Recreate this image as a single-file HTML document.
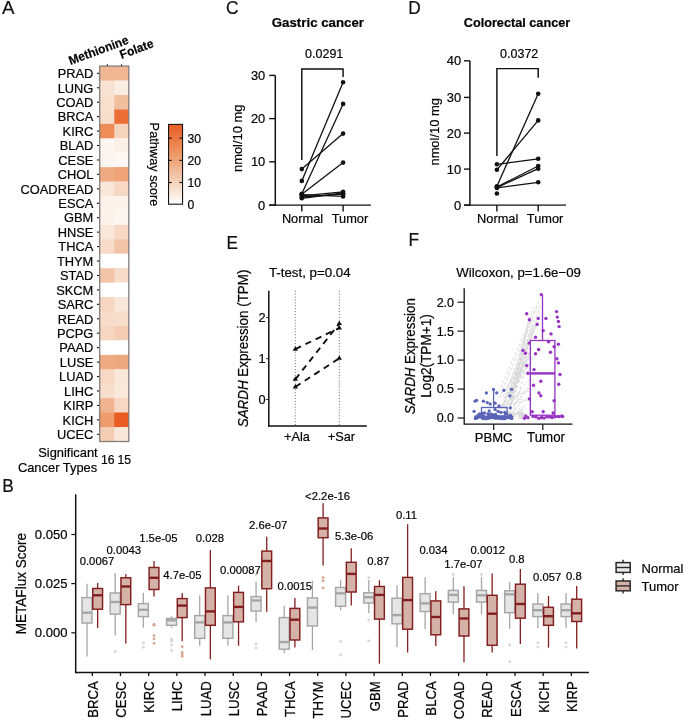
<!DOCTYPE html>
<html><head><meta charset="utf-8"><title>Figure</title>
<style>html,body{margin:0;padding:0;background:#fff;} svg{display:block;will-change:transform;} text{font-family:"Liberation Sans", sans-serif;stroke:#111;stroke-width:0.22px;}</style>
</head><body>
<svg width="685" height="721" viewBox="0 0 685 721" font-family='"Liberation Sans", sans-serif'>
<rect width="685" height="721" fill="#fff"/>
<text x="0" y="0" font-size="18.8" fill="#111" transform="translate(1.9 14.25) scale(1.0 1)">A</text>
<rect x="99.7" y="66.10" width="29.10" height="15.44" fill="rgb(240,183,149)"/>
<rect x="114.3" y="66.10" width="14.50" height="15.44" fill="rgb(240,183,149)"/>
<text x="93.30" y="78.12" font-size="13.43" text-anchor="end" transform="translate(93.30 78.12) scale(0.9569 1) translate(-93.30 -78.12)" >PRAD</text>
<line x1="96.90" y1="73.32" x2="99.40" y2="73.32" stroke="#1a1a1a" stroke-width="1.1" />
<rect x="99.7" y="80.54" width="29.10" height="15.44" fill="rgb(248,226,210)"/>
<rect x="114.3" y="80.54" width="14.50" height="15.44" fill="rgb(250,237,226)"/>
<text x="93.30" y="92.56" font-size="13.43" text-anchor="end" transform="translate(93.30 92.56) scale(0.9569 1) translate(-93.30 -92.56)" >LUNG</text>
<line x1="96.90" y1="87.76" x2="99.40" y2="87.76" stroke="#1a1a1a" stroke-width="1.1" />
<rect x="99.7" y="94.98" width="29.10" height="15.44" fill="rgb(248,224,207)"/>
<rect x="114.3" y="94.98" width="14.50" height="15.44" fill="rgb(241,190,158)"/>
<text x="93.30" y="107.00" font-size="13.43" text-anchor="end" transform="translate(93.30 107.00) scale(0.9569 1) translate(-93.30 -107.00)" >COAD</text>
<line x1="96.90" y1="102.20" x2="99.40" y2="102.20" stroke="#1a1a1a" stroke-width="1.1" />
<rect x="99.7" y="109.42" width="29.10" height="15.44" fill="rgb(247,222,204)"/>
<rect x="114.3" y="109.42" width="14.50" height="15.44" fill="rgb(235,110,55)"/>
<text x="93.30" y="121.43" font-size="13.43" text-anchor="end" transform="translate(93.30 121.43) scale(0.9569 1) translate(-93.30 -121.43)" >BRCA</text>
<line x1="96.90" y1="116.63" x2="99.40" y2="116.63" stroke="#1a1a1a" stroke-width="1.1" />
<rect x="99.7" y="123.85" width="29.10" height="15.44" fill="rgb(237,140,86)"/>
<rect x="114.3" y="123.85" width="14.50" height="15.44" fill="rgb(245,212,190)"/>
<text x="93.30" y="135.87" font-size="13.43" text-anchor="end" transform="translate(93.30 135.87) scale(0.9569 1) translate(-93.30 -135.87)" >KIRC</text>
<line x1="96.90" y1="131.07" x2="99.40" y2="131.07" stroke="#1a1a1a" stroke-width="1.1" />
<rect x="99.7" y="138.29" width="29.10" height="15.44" fill="rgb(253,246,240)"/>
<rect x="114.3" y="138.29" width="14.50" height="15.44" fill="rgb(251,240,231)"/>
<text x="93.30" y="150.31" font-size="13.43" text-anchor="end" transform="translate(93.30 150.31) scale(0.9569 1) translate(-93.30 -150.31)" >BLAD</text>
<line x1="96.90" y1="145.51" x2="99.40" y2="145.51" stroke="#1a1a1a" stroke-width="1.1" />
<rect x="99.7" y="152.73" width="29.10" height="15.44" fill="rgb(252,244,238)"/>
<rect x="114.3" y="152.73" width="14.50" height="15.44" fill="rgb(253,248,244)"/>
<text x="93.30" y="164.75" font-size="13.43" text-anchor="end" transform="translate(93.30 164.75) scale(0.9569 1) translate(-93.30 -164.75)" >CESE</text>
<line x1="96.90" y1="159.95" x2="99.40" y2="159.95" stroke="#1a1a1a" stroke-width="1.1" />
<rect x="99.7" y="167.17" width="29.10" height="15.44" fill="rgb(238,170,130)"/>
<rect x="114.3" y="167.17" width="14.50" height="15.44" fill="rgb(238,163,120)"/>
<text x="93.30" y="179.19" font-size="13.43" text-anchor="end" transform="translate(93.30 179.19) scale(0.9569 1) translate(-93.30 -179.19)" >CHOL</text>
<line x1="96.90" y1="174.39" x2="99.40" y2="174.39" stroke="#1a1a1a" stroke-width="1.1" />
<rect x="99.7" y="181.61" width="29.10" height="15.44" fill="rgb(249,232,218)"/>
<rect x="114.3" y="181.61" width="14.50" height="15.44" fill="rgb(246,216,196)"/>
<text x="93.30" y="193.63" font-size="13.43" text-anchor="end" transform="translate(93.30 193.63) scale(0.9569 1) translate(-93.30 -193.63)" >COADREAD</text>
<line x1="96.90" y1="188.83" x2="99.40" y2="188.83" stroke="#1a1a1a" stroke-width="1.1" />
<rect x="99.7" y="196.05" width="29.10" height="15.44" fill="rgb(252,242,234)"/>
<rect x="114.3" y="196.05" width="14.50" height="15.44" fill="rgb(252,243,235)"/>
<text x="93.30" y="208.07" font-size="13.43" text-anchor="end" transform="translate(93.30 208.07) scale(0.9569 1) translate(-93.30 -208.07)" >ESCA</text>
<line x1="96.90" y1="203.27" x2="99.40" y2="203.27" stroke="#1a1a1a" stroke-width="1.1" />
<rect x="99.7" y="210.48" width="29.10" height="15.44" fill="rgb(252,242,234)"/>
<rect x="114.3" y="210.48" width="14.50" height="15.44" fill="rgb(253,246,240)"/>
<text x="93.30" y="222.50" font-size="13.43" text-anchor="end" transform="translate(93.30 222.50) scale(0.9569 1) translate(-93.30 -222.50)" >GBM</text>
<line x1="96.90" y1="217.70" x2="99.40" y2="217.70" stroke="#1a1a1a" stroke-width="1.1" />
<rect x="99.7" y="224.92" width="29.10" height="15.44" fill="rgb(249,232,218)"/>
<rect x="114.3" y="224.92" width="14.50" height="15.44" fill="rgb(246,216,196)"/>
<text x="93.30" y="236.94" font-size="13.43" text-anchor="end" transform="translate(93.30 236.94) scale(0.9569 1) translate(-93.30 -236.94)" >HNSE</text>
<line x1="96.90" y1="232.14" x2="99.40" y2="232.14" stroke="#1a1a1a" stroke-width="1.1" />
<rect x="99.7" y="239.36" width="29.10" height="15.44" fill="rgb(247,220,201)"/>
<rect x="114.3" y="239.36" width="14.50" height="15.44" fill="rgb(242,196,167)"/>
<text x="93.30" y="251.38" font-size="13.43" text-anchor="end" transform="translate(93.30 251.38) scale(0.9569 1) translate(-93.30 -251.38)" >THCA</text>
<line x1="96.90" y1="246.58" x2="99.40" y2="246.58" stroke="#1a1a1a" stroke-width="1.1" />
<rect x="99.7" y="253.80" width="29.10" height="15.44" fill="rgb(255,255,255)"/>
<rect x="114.3" y="253.80" width="14.50" height="15.44" fill="rgb(255,255,255)"/>
<text x="93.30" y="265.82" font-size="13.43" text-anchor="end" transform="translate(93.30 265.82) scale(0.9569 1) translate(-93.30 -265.82)" >THYM</text>
<line x1="96.90" y1="261.02" x2="99.40" y2="261.02" stroke="#1a1a1a" stroke-width="1.1" />
<rect x="99.7" y="268.24" width="29.10" height="15.44" fill="rgb(242,196,167)"/>
<rect x="114.3" y="268.24" width="14.50" height="15.44" fill="rgb(247,220,201)"/>
<text x="93.30" y="280.26" font-size="13.43" text-anchor="end" transform="translate(93.30 280.26) scale(0.9569 1) translate(-93.30 -280.26)" >STAD</text>
<line x1="96.90" y1="275.46" x2="99.40" y2="275.46" stroke="#1a1a1a" stroke-width="1.1" />
<rect x="99.7" y="282.68" width="29.10" height="15.44" fill="rgb(255,255,255)"/>
<rect x="114.3" y="282.68" width="14.50" height="15.44" fill="rgb(255,255,255)"/>
<text x="93.30" y="294.70" font-size="13.43" text-anchor="end" transform="translate(93.30 294.70) scale(0.9569 1) translate(-93.30 -294.70)" >SKCM</text>
<line x1="96.90" y1="289.90" x2="99.40" y2="289.90" stroke="#1a1a1a" stroke-width="1.1" />
<rect x="99.7" y="297.12" width="29.10" height="15.44" fill="rgb(246,214,193)"/>
<rect x="114.3" y="297.12" width="14.50" height="15.44" fill="rgb(249,232,218)"/>
<text x="93.30" y="309.13" font-size="13.43" text-anchor="end" transform="translate(93.30 309.13) scale(0.9569 1) translate(-93.30 -309.13)" >SARC</text>
<line x1="96.90" y1="304.33" x2="99.40" y2="304.33" stroke="#1a1a1a" stroke-width="1.1" />
<rect x="99.7" y="311.55" width="29.10" height="15.44" fill="rgb(247,220,201)"/>
<rect x="114.3" y="311.55" width="14.50" height="15.44" fill="rgb(247,222,204)"/>
<text x="93.30" y="323.57" font-size="13.43" text-anchor="end" transform="translate(93.30 323.57) scale(0.9569 1) translate(-93.30 -323.57)" >READ</text>
<line x1="96.90" y1="318.77" x2="99.40" y2="318.77" stroke="#1a1a1a" stroke-width="1.1" />
<rect x="99.7" y="325.99" width="29.10" height="15.44" fill="rgb(246,214,193)"/>
<rect x="114.3" y="325.99" width="14.50" height="15.44" fill="rgb(244,205,180)"/>
<text x="93.30" y="338.01" font-size="13.43" text-anchor="end" transform="translate(93.30 338.01) scale(0.9569 1) translate(-93.30 -338.01)" >PCPG</text>
<line x1="96.90" y1="333.21" x2="99.40" y2="333.21" stroke="#1a1a1a" stroke-width="1.1" />
<rect x="99.7" y="340.43" width="29.10" height="15.44" fill="rgb(255,255,255)"/>
<rect x="114.3" y="340.43" width="14.50" height="15.44" fill="rgb(255,255,255)"/>
<text x="93.30" y="352.45" font-size="13.43" text-anchor="end" transform="translate(93.30 352.45) scale(0.9569 1) translate(-93.30 -352.45)" >PAAD</text>
<line x1="96.90" y1="347.65" x2="99.40" y2="347.65" stroke="#1a1a1a" stroke-width="1.1" />
<rect x="99.7" y="354.87" width="29.10" height="15.44" fill="rgb(238,170,130)"/>
<rect x="114.3" y="354.87" width="14.50" height="15.44" fill="rgb(238,168,127)"/>
<text x="93.30" y="366.89" font-size="13.43" text-anchor="end" transform="translate(93.30 366.89) scale(0.9569 1) translate(-93.30 -366.89)" >LUSE</text>
<line x1="96.90" y1="362.09" x2="99.40" y2="362.09" stroke="#1a1a1a" stroke-width="1.1" />
<rect x="99.7" y="369.31" width="29.10" height="15.44" fill="rgb(246,216,196)"/>
<rect x="114.3" y="369.31" width="14.50" height="15.44" fill="rgb(249,232,218)"/>
<text x="93.30" y="381.33" font-size="13.43" text-anchor="end" transform="translate(93.30 381.33) scale(0.9569 1) translate(-93.30 -381.33)" >LUAD</text>
<line x1="96.90" y1="376.53" x2="99.40" y2="376.53" stroke="#1a1a1a" stroke-width="1.1" />
<rect x="99.7" y="383.75" width="29.10" height="15.44" fill="rgb(247,222,204)"/>
<rect x="114.3" y="383.75" width="14.50" height="15.44" fill="rgb(249,233,219)"/>
<text x="93.30" y="395.77" font-size="13.43" text-anchor="end" transform="translate(93.30 395.77) scale(0.9569 1) translate(-93.30 -395.77)" >LIHC</text>
<line x1="96.90" y1="390.97" x2="99.40" y2="390.97" stroke="#1a1a1a" stroke-width="1.1" />
<rect x="99.7" y="398.18" width="29.10" height="15.44" fill="rgb(240,180,144)"/>
<rect x="114.3" y="398.18" width="14.50" height="15.44" fill="rgb(246,216,196)"/>
<text x="93.30" y="410.20" font-size="13.43" text-anchor="end" transform="translate(93.30 410.20) scale(0.9569 1) translate(-93.30 -410.20)" >KIRP</text>
<line x1="96.90" y1="405.40" x2="99.40" y2="405.40" stroke="#1a1a1a" stroke-width="1.1" />
<rect x="99.7" y="412.62" width="29.10" height="15.44" fill="rgb(238,155,109)"/>
<rect x="114.3" y="412.62" width="14.50" height="15.44" fill="rgb(233,92,36)"/>
<text x="93.30" y="424.64" font-size="13.43" text-anchor="end" transform="translate(93.30 424.64) scale(0.9569 1) translate(-93.30 -424.64)" >KICH</text>
<line x1="96.90" y1="419.84" x2="99.40" y2="419.84" stroke="#1a1a1a" stroke-width="1.1" />
<rect x="99.7" y="427.06" width="29.10" height="14.44" fill="rgb(244,205,180)"/>
<rect x="114.3" y="427.06" width="14.50" height="14.44" fill="rgb(249,232,218)"/>
<text x="93.30" y="439.08" font-size="13.43" text-anchor="end" transform="translate(93.30 439.08) scale(0.9569 1) translate(-93.30 -439.08)" >UCEC</text>
<line x1="96.90" y1="434.28" x2="99.40" y2="434.28" stroke="#1a1a1a" stroke-width="1.1" />
<rect x="99.7" y="66.1" width="29.10" height="375.40" fill="none" stroke="#857d7a" stroke-width="1.3"/>
<line x1="107.30" y1="64.00" x2="107.30" y2="66.10" stroke="#333" stroke-width="0.9" />
<line x1="121.50" y1="64.00" x2="121.50" y2="66.10" stroke="#333" stroke-width="0.9" />
<text x="70.50" y="65.00" font-size="12.44" text-anchor="start" font-weight="bold" transform="rotate(-20.2 70.50 65.00) translate(70.50 65.00) scale(0.9569 1) translate(-70.50 -65.00)" >Methionine</text>
<text x="121.60" y="58.90" font-size="12.44" text-anchor="start" font-weight="bold" transform="rotate(-20.2 121.60 58.90) translate(121.60 58.90) scale(0.9569 1) translate(-121.60 -58.90)" >Folate</text>
<text x="97.70" y="456.90" font-size="13.48" text-anchor="end" transform="translate(97.70 456.90) scale(0.9569 1) translate(-97.70 -456.90)" >Significant</text>
<text x="97.20" y="471.70" font-size="13.48" text-anchor="end" transform="translate(97.20 471.70) scale(0.9569 1) translate(-97.20 -471.70)" >Cancer Types</text>
<text x="101.10" y="463.90" font-size="12.75" text-anchor="start" transform="translate(101.10 463.90) scale(0.9569 1) translate(-101.10 -463.90)" >16</text>
<text x="117.60" y="463.90" font-size="12.75" text-anchor="start" transform="translate(117.60 463.90) scale(0.9569 1) translate(-117.60 -463.90)" >15</text>
<defs><linearGradient id="cb" x1="0" y1="1" x2="0" y2="0"><stop offset="0.0" stop-color="rgb(255,255,255)"/><stop offset="0.1" stop-color="rgb(251,239,229)"/><stop offset="0.2" stop-color="rgb(247,222,204)"/><stop offset="0.3" stop-color="rgb(244,206,181)"/><stop offset="0.4" stop-color="rgb(241,189,158)"/><stop offset="0.5" stop-color="rgb(239,173,134)"/><stop offset="0.6" stop-color="rgb(238,157,111)"/><stop offset="0.7" stop-color="rgb(237,140,87)"/><stop offset="0.8" stop-color="rgb(236,124,69)"/><stop offset="0.9" stop-color="rgb(234,108,52)"/><stop offset="1.0" stop-color="rgb(233,92,36)"/></linearGradient></defs>
<rect x="168.55" y="124.4" width="14.0" height="79.8" fill="url(#cb)" stroke="#151515" stroke-width="1.1"/>
<line x1="168.60" y1="138.20" x2="171.60" y2="138.20" stroke="#111" stroke-width="1.2" />
<line x1="179.50" y1="138.20" x2="182.50" y2="138.20" stroke="#111" stroke-width="1.2" />
<text x="187.60" y="142.60" font-size="12.75" text-anchor="start" transform="translate(187.60 142.60) scale(0.9569 1) translate(-187.60 -142.60)" >30</text>
<line x1="168.60" y1="160.40" x2="171.60" y2="160.40" stroke="#111" stroke-width="1.2" />
<line x1="179.50" y1="160.40" x2="182.50" y2="160.40" stroke="#111" stroke-width="1.2" />
<text x="187.60" y="164.80" font-size="12.75" text-anchor="start" transform="translate(187.60 164.80) scale(0.9569 1) translate(-187.60 -164.80)" >20</text>
<line x1="168.60" y1="182.50" x2="171.60" y2="182.50" stroke="#111" stroke-width="1.2" />
<line x1="179.50" y1="182.50" x2="182.50" y2="182.50" stroke="#111" stroke-width="1.2" />
<text x="187.60" y="186.90" font-size="12.75" text-anchor="start" transform="translate(187.60 186.90) scale(0.9569 1) translate(-187.60 -186.90)" >10</text>
<text x="187.60" y="208.80" font-size="12.75" text-anchor="start" transform="translate(187.60 208.80) scale(0.9569 1) translate(-187.60 -208.80)" >0</text>
<text x="149.90" y="164.55" font-size="13.38" text-anchor="middle" transform="rotate(90 149.90 164.55) translate(149.90 164.55) scale(0.9569 1) translate(-149.90 -164.55)" >Pathway score</text>
<text x="0" y="0" font-size="18.8" fill="#111" transform="translate(226.0 14.2) scale(0.92 1)">C</text>
<text x="317.90" y="26.70" font-size="12.96" text-anchor="middle" font-weight="bold" textLength="96.35" lengthAdjust="spacingAndGlyphs" transform="translate(317.90 26.70) scale(0.9569 1) translate(-317.90 -26.70)" >Gastric cancer</text>
<text x="324.20" y="58.40" font-size="13.06" text-anchor="middle" transform="translate(324.20 58.40) scale(0.9569 1) translate(-324.20 -58.40)" >0.0291</text>
<path d="M301.8,160.0 V68.89999999999999 H343.1 V76.9" fill="none" stroke="#111" stroke-width="1.45"/>
<line x1="275.30" y1="75.40" x2="275.30" y2="205.80" stroke="#111" stroke-width="1.5" />
<line x1="269.20" y1="205.10" x2="370.90" y2="205.10" stroke="#111" stroke-width="1.45" />
<line x1="269.20" y1="75.40" x2="275.30" y2="75.40" stroke="#111" stroke-width="1.4" />
<text x="265.30" y="80.00" font-size="13.48" text-anchor="end" transform="translate(265.30 80.00) scale(0.9569 1) translate(-265.30 -80.00)" >30</text>
<line x1="269.20" y1="118.60" x2="275.30" y2="118.60" stroke="#111" stroke-width="1.4" />
<text x="265.30" y="123.20" font-size="13.48" text-anchor="end" transform="translate(265.30 123.20) scale(0.9569 1) translate(-265.30 -123.20)" >20</text>
<line x1="269.20" y1="161.80" x2="275.30" y2="161.80" stroke="#111" stroke-width="1.4" />
<text x="265.30" y="166.40" font-size="13.48" text-anchor="end" transform="translate(265.30 166.40) scale(0.9569 1) translate(-265.30 -166.40)" >10</text>
<line x1="269.20" y1="205.10" x2="275.30" y2="205.10" stroke="#111" stroke-width="1.4" />
<text x="265.30" y="209.70" font-size="13.48" text-anchor="end" transform="translate(265.30 209.70) scale(0.9569 1) translate(-265.30 -209.70)" >0</text>
<line x1="301.80" y1="205.10" x2="301.80" y2="211.60" stroke="#111" stroke-width="1.4" />
<line x1="343.10" y1="205.10" x2="343.10" y2="211.60" stroke="#111" stroke-width="1.4" />
<text x="302.50" y="222.80" font-size="13.38" text-anchor="middle" transform="translate(302.50 222.80) scale(0.9569 1) translate(-302.50 -222.80)" >Normal</text>
<text x="350.00" y="222.80" font-size="13.38" text-anchor="middle" transform="translate(350.00 222.80) scale(0.9569 1) translate(-350.00 -222.80)" >Tumor</text>
<text x="242.50" y="138.30" font-size="13.48" text-anchor="middle" transform="rotate(-90 242.50 138.30) translate(242.50 138.30) scale(0.9569 1) translate(-242.50 -138.30)" >nmol/10 mg</text>
<line x1="301.80" y1="169.10" x2="343.10" y2="133.60" stroke="#111" stroke-width="1.3" />
<line x1="301.80" y1="180.90" x2="343.10" y2="82.20" stroke="#111" stroke-width="1.3" />
<line x1="301.80" y1="193.70" x2="343.10" y2="103.90" stroke="#111" stroke-width="1.3" />
<line x1="301.80" y1="194.20" x2="343.10" y2="162.60" stroke="#111" stroke-width="1.3" />
<line x1="301.80" y1="194.60" x2="343.10" y2="196.40" stroke="#111" stroke-width="1.3" />
<line x1="301.80" y1="195.90" x2="343.10" y2="191.80" stroke="#111" stroke-width="1.3" />
<line x1="301.80" y1="197.00" x2="343.10" y2="194.20" stroke="#111" stroke-width="1.3" />
<line x1="301.80" y1="198.30" x2="343.10" y2="193.00" stroke="#111" stroke-width="1.3" />
<circle cx="301.8" cy="169.1" r="2.3" fill="#111"/>
<circle cx="343.1" cy="133.6" r="2.3" fill="#111"/>
<circle cx="301.8" cy="180.9" r="2.3" fill="#111"/>
<circle cx="343.1" cy="82.2" r="2.3" fill="#111"/>
<circle cx="301.8" cy="193.7" r="2.3" fill="#111"/>
<circle cx="343.1" cy="103.9" r="2.3" fill="#111"/>
<circle cx="301.8" cy="194.2" r="2.3" fill="#111"/>
<circle cx="343.1" cy="162.6" r="2.3" fill="#111"/>
<circle cx="301.8" cy="194.6" r="2.3" fill="#111"/>
<circle cx="343.1" cy="196.4" r="2.3" fill="#111"/>
<circle cx="301.8" cy="195.9" r="2.3" fill="#111"/>
<circle cx="343.1" cy="191.8" r="2.3" fill="#111"/>
<circle cx="301.8" cy="197.0" r="2.3" fill="#111"/>
<circle cx="343.1" cy="194.2" r="2.3" fill="#111"/>
<circle cx="301.8" cy="198.3" r="2.3" fill="#111"/>
<circle cx="343.1" cy="193.0" r="2.3" fill="#111"/>
<text x="0" y="0" font-size="18.8" fill="#111" transform="translate(408.3 13.9) scale(0.92 1)">D</text>
<text x="517.00" y="26.70" font-size="12.96" text-anchor="middle" font-weight="bold" textLength="111.29" lengthAdjust="spacingAndGlyphs" transform="translate(517.00 26.70) scale(0.9569 1) translate(-517.00 -26.70)" >Colorectal cancer</text>
<text x="519.20" y="58.40" font-size="13.06" text-anchor="middle" transform="translate(519.20 58.40) scale(0.9569 1) translate(-519.20 -58.40)" >0.0372</text>
<path d="M496.9,156.0 V68.6 H538.2 V77.7" fill="none" stroke="#111" stroke-width="1.45"/>
<line x1="469.90" y1="60.80" x2="469.90" y2="205.80" stroke="#111" stroke-width="1.5" />
<line x1="464.00" y1="205.10" x2="566.00" y2="205.10" stroke="#111" stroke-width="1.45" />
<line x1="464.00" y1="60.80" x2="469.90" y2="60.80" stroke="#111" stroke-width="1.4" />
<text x="461.20" y="65.40" font-size="13.48" text-anchor="end" transform="translate(461.20 65.40) scale(0.9569 1) translate(-461.20 -65.40)" >40</text>
<line x1="464.00" y1="97.40" x2="469.90" y2="97.40" stroke="#111" stroke-width="1.4" />
<text x="461.20" y="102.00" font-size="13.48" text-anchor="end" transform="translate(461.20 102.00) scale(0.9569 1) translate(-461.20 -102.00)" >30</text>
<line x1="464.00" y1="133.10" x2="469.90" y2="133.10" stroke="#111" stroke-width="1.4" />
<text x="461.20" y="137.70" font-size="13.48" text-anchor="end" transform="translate(461.20 137.70) scale(0.9569 1) translate(-461.20 -137.70)" >20</text>
<line x1="464.00" y1="169.10" x2="469.90" y2="169.10" stroke="#111" stroke-width="1.4" />
<text x="461.20" y="173.70" font-size="13.48" text-anchor="end" transform="translate(461.20 173.70) scale(0.9569 1) translate(-461.20 -173.70)" >10</text>
<line x1="464.00" y1="205.10" x2="469.90" y2="205.10" stroke="#111" stroke-width="1.4" />
<text x="461.20" y="209.70" font-size="13.48" text-anchor="end" transform="translate(461.20 209.70) scale(0.9569 1) translate(-461.20 -209.70)" >0</text>
<line x1="496.90" y1="205.10" x2="496.90" y2="211.60" stroke="#111" stroke-width="1.4" />
<line x1="538.20" y1="205.10" x2="538.20" y2="211.60" stroke="#111" stroke-width="1.4" />
<text x="497.70" y="222.80" font-size="13.38" text-anchor="middle" transform="translate(497.70 222.80) scale(0.9569 1) translate(-497.70 -222.80)" >Normal</text>
<text x="545.10" y="222.80" font-size="13.38" text-anchor="middle" transform="translate(545.10 222.80) scale(0.9569 1) translate(-545.10 -222.80)" >Tumor</text>
<text x="439.10" y="131.85" font-size="13.48" text-anchor="middle" transform="rotate(-90 439.10 131.85) translate(439.10 131.85) scale(0.9569 1) translate(-439.10 -131.85)" >nmol/10 mg</text>
<line x1="496.90" y1="164.30" x2="538.20" y2="158.80" stroke="#111" stroke-width="1.3" />
<line x1="496.90" y1="169.80" x2="538.20" y2="120.40" stroke="#111" stroke-width="1.3" />
<line x1="496.90" y1="186.30" x2="538.20" y2="93.80" stroke="#111" stroke-width="1.3" />
<line x1="496.90" y1="187.00" x2="538.20" y2="166.00" stroke="#111" stroke-width="1.3" />
<line x1="496.90" y1="187.60" x2="538.20" y2="168.70" stroke="#111" stroke-width="1.3" />
<line x1="496.90" y1="187.90" x2="538.20" y2="182.30" stroke="#111" stroke-width="1.3" />
<circle cx="496.9" cy="164.3" r="2.3" fill="#111"/>
<circle cx="538.2" cy="158.8" r="2.3" fill="#111"/>
<circle cx="496.9" cy="169.8" r="2.3" fill="#111"/>
<circle cx="538.2" cy="120.4" r="2.3" fill="#111"/>
<circle cx="496.9" cy="186.3" r="2.3" fill="#111"/>
<circle cx="538.2" cy="93.8" r="2.3" fill="#111"/>
<circle cx="496.9" cy="187.0" r="2.3" fill="#111"/>
<circle cx="538.2" cy="166.0" r="2.3" fill="#111"/>
<circle cx="496.9" cy="187.6" r="2.3" fill="#111"/>
<circle cx="538.2" cy="168.7" r="2.3" fill="#111"/>
<circle cx="496.9" cy="187.9" r="2.3" fill="#111"/>
<circle cx="538.2" cy="182.3" r="2.3" fill="#111"/>
<circle cx="496.9" cy="193.5" r="2.3" fill="#111"/>
<text x="0" y="0" font-size="18.8" fill="#111" transform="translate(226.6 248.9) scale(0.92 1)">E</text>
<text x="268.90" y="277.10" font-size="13.38" text-anchor="start" textLength="85.48" lengthAdjust="spacingAndGlyphs" transform="translate(268.90 277.10) scale(0.9569 1) translate(-268.90 -277.10)" >T-test, p=0.04</text>
<line x1="268.80" y1="290.70" x2="268.80" y2="426.70" stroke="#111" stroke-width="1.5" />
<line x1="268.10" y1="426.00" x2="366.80" y2="426.00" stroke="#111" stroke-width="1.5" />
<line x1="266.30" y1="317.50" x2="268.80" y2="317.50" stroke="#111" stroke-width="1.0" />
<text x="265.60" y="322.00" font-size="13.38" text-anchor="end" transform="translate(265.60 322.00) scale(0.9569 1) translate(-265.60 -322.00)" >2</text>
<line x1="266.30" y1="358.70" x2="268.80" y2="358.70" stroke="#111" stroke-width="1.0" />
<text x="265.60" y="363.20" font-size="13.38" text-anchor="end" transform="translate(265.60 363.20) scale(0.9569 1) translate(-265.60 -363.20)" >1</text>
<line x1="266.30" y1="399.50" x2="268.80" y2="399.50" stroke="#111" stroke-width="1.0" />
<text x="265.60" y="404.00" font-size="13.38" text-anchor="end" transform="translate(265.60 404.00) scale(0.9569 1) translate(-265.60 -404.00)" >0</text>
<line x1="295.30" y1="290.70" x2="295.30" y2="425.50" stroke="#333" stroke-width="0.75" stroke-dasharray="1,1.9"/>
<line x1="339.30" y1="290.70" x2="339.30" y2="425.50" stroke="#333" stroke-width="0.75" stroke-dasharray="1,1.9"/>
<text x="297.00" y="440.70" font-size="13.38" text-anchor="middle" transform="translate(297.00 440.70) scale(0.9569 1) translate(-297.00 -440.70)" >+Ala</text>
<text x="341.40" y="440.70" font-size="13.38" text-anchor="middle" transform="translate(341.40 440.70) scale(0.9569 1) translate(-341.40 -440.70)" >+Sar</text>
<text x="248.00" y="348.45" font-size="14.00" text-anchor="middle" transform="rotate(-90 248.00 348.45) translate(248.00 348.45) scale(0.9569 1) translate(-248.00 -348.45)" ><tspan font-style="italic">SARDH</tspan> Expression (TPM)</text>
<line x1="295.30" y1="349.10" x2="339.30" y2="328.00" stroke="#111" stroke-width="1.9" stroke-dasharray="6.3,5"/>
<line x1="295.30" y1="379.30" x2="339.30" y2="323.50" stroke="#111" stroke-width="1.9" stroke-dasharray="6.3,5"/>
<line x1="295.30" y1="386.90" x2="339.30" y2="358.30" stroke="#111" stroke-width="1.9" stroke-dasharray="6.3,5"/>
<path d="M292.65,350.65 L297.95,350.65 L295.30,346.15 Z" fill="#111"/>
<path d="M336.65,329.55 L341.95,329.55 L339.30,325.05 Z" fill="#111"/>
<path d="M292.65,380.85 L297.95,380.85 L295.30,376.35 Z" fill="#111"/>
<path d="M336.65,325.05 L341.95,325.05 L339.30,320.55 Z" fill="#111"/>
<path d="M292.65,388.45 L297.95,388.45 L295.30,383.95 Z" fill="#111"/>
<path d="M336.65,359.85 L341.95,359.85 L339.30,355.35 Z" fill="#111"/>
<text x="0" y="0" font-size="18.8" fill="#111" transform="translate(408.4 245.9) scale(0.92 1)">F</text>
<text x="456.30" y="277.10" font-size="13.58" text-anchor="start" textLength="130.21" lengthAdjust="spacingAndGlyphs" transform="translate(456.30 277.10) scale(0.9569 1) translate(-456.30 -277.10)" >Wilcoxon, p=1.6e−09</text>
<text x="415.10" y="356.20" font-size="13.90" text-anchor="middle" transform="rotate(-90 415.10 356.20) translate(415.10 356.20) scale(0.9569 1) translate(-415.10 -356.20)" ><tspan font-style="italic">SARDH</tspan> Expression</text>
<text x="430.80" y="397.70" font-size="14.21" text-anchor="start" transform="rotate(-90 430.80 397.70) translate(430.80 397.70) scale(0.9569 1) translate(-430.80 -397.70)" >Log2(TPM+1)</text>
<g stroke="#d4d4d4" stroke-width="0.8" stroke-dasharray="3.2,1.9" fill="none">
<line x1="498.5" y1="392.5" x2="540.5" y2="296.5"/>
<line x1="500.5" y1="394.5" x2="538.0" y2="305.0"/>
<line x1="506.9" y1="410.6" x2="532.7" y2="319.0"/>
<line x1="509.3" y1="413.4" x2="532.7" y2="324.8"/>
<line x1="498.0" y1="398.4" x2="528.3" y2="358.1"/>
<line x1="509.1" y1="393.9" x2="525.8" y2="367.3"/>
<line x1="512.0" y1="393.1" x2="535.5" y2="326.8"/>
<line x1="498.5" y1="408.6" x2="524.4" y2="400.6"/>
<line x1="511.3" y1="395.1" x2="528.3" y2="357.2"/>
<line x1="499.7" y1="414.1" x2="538.7" y2="317.8"/>
<line x1="502.8" y1="406.9" x2="530.2" y2="352.1"/>
<line x1="510.1" y1="393.0" x2="529.4" y2="321.5"/>
<line x1="511.6" y1="397.6" x2="532.6" y2="389.7"/>
<line x1="506.1" y1="412.6" x2="530.7" y2="386.8"/>
<line x1="509.6" y1="404.9" x2="529.5" y2="314.1"/>
<line x1="503.7" y1="416.0" x2="524.4" y2="406.2"/>
<line x1="511.9" y1="402.4" x2="529.0" y2="351.9"/>
<line x1="508.1" y1="394.5" x2="540.7" y2="303.1"/>
<line x1="505.7" y1="405.3" x2="533.3" y2="357.0"/>
<line x1="505.8" y1="408.4" x2="534.1" y2="325.5"/>
<line x1="502.9" y1="396.6" x2="538.4" y2="320.8"/>
<line x1="502.3" y1="408.1" x2="526.2" y2="339.9"/>
<line x1="508.9" y1="414.0" x2="532.3" y2="307.5"/>
<line x1="510.6" y1="410.2" x2="534.3" y2="378.6"/>
<line x1="511.5" y1="418.7" x2="532.0" y2="346.8"/>
<line x1="503.3" y1="405.3" x2="523.3" y2="401.6"/>
<line x1="499.0" y1="396.4" x2="530.6" y2="400.8"/>
<line x1="509.7" y1="405.0" x2="521.7" y2="389.0"/>
<line x1="503.9" y1="399.8" x2="527.9" y2="329.7"/>
<line x1="510.6" y1="401.1" x2="540.2" y2="308.0"/>
<line x1="501.5" y1="404.9" x2="533.8" y2="385.8"/>
<line x1="498.4" y1="411.7" x2="526.0" y2="360.4"/>
<line x1="510.3" y1="413.5" x2="528.3" y2="396.4"/>
<line x1="509.9" y1="407.7" x2="528.2" y2="349.0"/>
<line x1="508.8" y1="399.5" x2="523.3" y2="361.4"/>
<line x1="498.3" y1="417.8" x2="529.6" y2="378.8"/>
<line x1="512.9" y1="417.3" x2="522.9" y2="409.8"/>
<line x1="512.2" y1="417.8" x2="524.5" y2="408.5"/>
<line x1="511.3" y1="413.5" x2="520.1" y2="411.9"/>
<line x1="511.4" y1="417.3" x2="523.3" y2="408.4"/>
<line x1="512.6" y1="414.6" x2="522.5" y2="409.4"/>
<line x1="511.5" y1="413.9" x2="521.9" y2="414.8"/>
<line x1="512.7" y1="413.2" x2="523.6" y2="416.6"/>
<line x1="513.3" y1="417.0" x2="520.0" y2="412.1"/>
</g>
<rect x="518.8" y="412.0" width="5.5" height="6.8" fill="#dadada"/>
<line x1="493.60" y1="389.00" x2="493.60" y2="407.50" stroke="#5a64b8" stroke-width="1.3" />
<rect x="481.5" y="407.5" width="25.6" height="11.0" fill="none" stroke="#5a64b8" stroke-width="1.3"/>
<line x1="481.50" y1="416.80" x2="507.10" y2="416.80" stroke="#5a64b8" stroke-width="2.2" />
<line x1="542.50" y1="294.70" x2="542.50" y2="340.50" stroke="#9632c4" stroke-width="1.3" />
<line x1="542.50" y1="415.20" x2="542.50" y2="418.00" stroke="#9632c4" stroke-width="1.3" />
<rect x="530.3" y="340.5" width="24.6" height="74.7" fill="none" stroke="#9632c4" stroke-width="1.3"/>
<line x1="530.30" y1="373.40" x2="554.90" y2="373.40" stroke="#9632c4" stroke-width="2.4" />
<circle cx="493.5" cy="389.4" r="1.65" fill="#5a64b8"/>
<circle cx="496.7" cy="392.9" r="1.65" fill="#5a64b8"/>
<circle cx="503.8" cy="390.3" r="1.65" fill="#5a64b8"/>
<circle cx="511.6" cy="389.4" r="1.65" fill="#5a64b8"/>
<circle cx="486.4" cy="392.9" r="1.65" fill="#5a64b8"/>
<circle cx="509.9" cy="395.8" r="1.65" fill="#5a64b8"/>
<circle cx="476.6" cy="400.3" r="1.65" fill="#5a64b8"/>
<circle cx="475.1" cy="401.2" r="1.65" fill="#5a64b8"/>
<circle cx="483.4" cy="401.2" r="1.65" fill="#5a64b8"/>
<circle cx="487.3" cy="402.6" r="1.65" fill="#5a64b8"/>
<circle cx="490.2" cy="404.0" r="1.65" fill="#5a64b8"/>
<circle cx="495.1" cy="403.2" r="1.65" fill="#5a64b8"/>
<circle cx="499.0" cy="405.9" r="1.65" fill="#5a64b8"/>
<circle cx="510.3" cy="407.8" r="1.65" fill="#5a64b8"/>
<circle cx="474.1" cy="411.3" r="1.65" fill="#5a64b8"/>
<circle cx="484.5" cy="412.9" r="1.65" fill="#5a64b8"/>
<circle cx="489.2" cy="411.0" r="1.65" fill="#5a64b8"/>
<circle cx="495.1" cy="409.4" r="1.65" fill="#5a64b8"/>
<circle cx="498.0" cy="411.3" r="1.65" fill="#5a64b8"/>
<circle cx="501.0" cy="412.3" r="1.65" fill="#5a64b8"/>
<circle cx="504.8" cy="412.3" r="1.65" fill="#5a64b8"/>
<circle cx="492.0" cy="414.5" r="1.65" fill="#5a64b8"/>
<circle cx="507.0" cy="414.0" r="1.65" fill="#5a64b8"/>
<circle cx="498.5" cy="418.3" r="1.65" fill="#5a64b8"/>
<circle cx="504.9" cy="418.7" r="1.65" fill="#5a64b8"/>
<circle cx="502.9" cy="418.6" r="1.65" fill="#5a64b8"/>
<circle cx="476.6" cy="417.7" r="1.65" fill="#5a64b8"/>
<circle cx="510.4" cy="418.1" r="1.65" fill="#5a64b8"/>
<circle cx="508.8" cy="417.0" r="1.65" fill="#5a64b8"/>
<circle cx="492.9" cy="417.3" r="1.65" fill="#5a64b8"/>
<circle cx="495.6" cy="417.9" r="1.65" fill="#5a64b8"/>
<circle cx="476.0" cy="417.2" r="1.65" fill="#5a64b8"/>
<circle cx="485.8" cy="418.6" r="1.65" fill="#5a64b8"/>
<circle cx="503.8" cy="417.1" r="1.65" fill="#5a64b8"/>
<circle cx="505.0" cy="417.1" r="1.65" fill="#5a64b8"/>
<circle cx="498.3" cy="417.1" r="1.65" fill="#5a64b8"/>
<circle cx="475.6" cy="418.5" r="1.65" fill="#5a64b8"/>
<circle cx="483.2" cy="417.2" r="1.65" fill="#5a64b8"/>
<circle cx="511.8" cy="418.5" r="1.65" fill="#5a64b8"/>
<circle cx="486.2" cy="418.7" r="1.65" fill="#5a64b8"/>
<circle cx="495.5" cy="418.2" r="1.65" fill="#5a64b8"/>
<circle cx="483.1" cy="418.7" r="1.65" fill="#5a64b8"/>
<circle cx="501.1" cy="418.7" r="1.65" fill="#5a64b8"/>
<circle cx="508.6" cy="417.4" r="1.65" fill="#5a64b8"/>
<circle cx="488.9" cy="417.1" r="1.65" fill="#5a64b8"/>
<circle cx="480.9" cy="416.9" r="1.65" fill="#5a64b8"/>
<circle cx="486.7" cy="418.0" r="1.65" fill="#5a64b8"/>
<circle cx="475.6" cy="418.2" r="1.65" fill="#5a64b8"/>
<circle cx="488.0" cy="417.4" r="1.65" fill="#5a64b8"/>
<circle cx="505.8" cy="417.8" r="1.65" fill="#5a64b8"/>
<circle cx="487.2" cy="417.8" r="1.65" fill="#5a64b8"/>
<circle cx="501.6" cy="416.9" r="1.65" fill="#5a64b8"/>
<circle cx="511.6" cy="416.8" r="1.65" fill="#5a64b8"/>
<circle cx="503.2" cy="418.5" r="1.65" fill="#5a64b8"/>
<circle cx="476.2" cy="418.4" r="1.65" fill="#5a64b8"/>
<circle cx="489.0" cy="418.0" r="1.65" fill="#5a64b8"/>
<circle cx="475.8" cy="416.9" r="1.65" fill="#5a64b8"/>
<circle cx="483.2" cy="417.0" r="1.65" fill="#5a64b8"/>
<circle cx="483.7" cy="416.2" r="1.65" fill="#5a64b8"/>
<circle cx="508.6" cy="417.0" r="1.65" fill="#5a64b8"/>
<circle cx="488.7" cy="414.6" r="1.65" fill="#5a64b8"/>
<circle cx="494.8" cy="416.3" r="1.65" fill="#5a64b8"/>
<circle cx="480.7" cy="416.2" r="1.65" fill="#5a64b8"/>
<circle cx="504.1" cy="416.6" r="1.65" fill="#5a64b8"/>
<circle cx="478.2" cy="417.0" r="1.65" fill="#5a64b8"/>
<circle cx="480.1" cy="414.6" r="1.65" fill="#5a64b8"/>
<circle cx="497.8" cy="416.9" r="1.65" fill="#5a64b8"/>
<circle cx="488.6" cy="416.9" r="1.65" fill="#5a64b8"/>
<circle cx="495.5" cy="414.4" r="1.65" fill="#5a64b8"/>
<circle cx="487.8" cy="413.9" r="1.65" fill="#5a64b8"/>
<circle cx="479.7" cy="413.8" r="1.65" fill="#5a64b8"/>
<circle cx="500.4" cy="417.2" r="1.65" fill="#5a64b8"/>
<circle cx="482.5" cy="413.4" r="1.65" fill="#5a64b8"/>
<circle cx="510.5" cy="415.3" r="1.65" fill="#5a64b8"/>
<circle cx="490.8" cy="414.1" r="1.65" fill="#5a64b8"/>
<circle cx="497.2" cy="416.5" r="1.65" fill="#5a64b8"/>
<circle cx="492.5" cy="414.9" r="1.65" fill="#5a64b8"/>
<circle cx="478.9" cy="416.9" r="1.65" fill="#5a64b8"/>
<circle cx="478.1" cy="415.2" r="1.65" fill="#5a64b8"/>
<circle cx="505.5" cy="413.7" r="1.65" fill="#5a64b8"/>
<circle cx="501.9" cy="417.0" r="1.65" fill="#5a64b8"/>
<circle cx="498.4" cy="416.4" r="1.65" fill="#5a64b8"/>
<circle cx="480.6" cy="414.9" r="1.65" fill="#5a64b8"/>
<circle cx="541.3" cy="294.6" r="1.7" fill="#9632c4"/>
<circle cx="526.7" cy="313.8" r="1.7" fill="#9632c4"/>
<circle cx="529.4" cy="319.8" r="1.7" fill="#9632c4"/>
<circle cx="538.2" cy="318.4" r="1.7" fill="#9632c4"/>
<circle cx="545.9" cy="318.4" r="1.7" fill="#9632c4"/>
<circle cx="537.1" cy="324.4" r="1.7" fill="#9632c4"/>
<circle cx="556.5" cy="311.6" r="1.7" fill="#9632c4"/>
<circle cx="557.3" cy="317.1" r="1.7" fill="#9632c4"/>
<circle cx="558.4" cy="321.5" r="1.7" fill="#9632c4"/>
<circle cx="559.1" cy="326.6" r="1.7" fill="#9632c4"/>
<circle cx="543.2" cy="330.6" r="1.7" fill="#9632c4"/>
<circle cx="551.0" cy="333.9" r="1.7" fill="#9632c4"/>
<circle cx="535.5" cy="337.2" r="1.7" fill="#9632c4"/>
<circle cx="548.6" cy="341.8" r="1.7" fill="#9632c4"/>
<circle cx="529.1" cy="343.1" r="1.7" fill="#9632c4"/>
<circle cx="558.4" cy="344.2" r="1.7" fill="#9632c4"/>
<circle cx="554.1" cy="346.8" r="1.7" fill="#9632c4"/>
<circle cx="538.6" cy="349.5" r="1.7" fill="#9632c4"/>
<circle cx="523.0" cy="350.4" r="1.7" fill="#9632c4"/>
<circle cx="525.4" cy="353.2" r="1.7" fill="#9632c4"/>
<circle cx="535.5" cy="353.7" r="1.7" fill="#9632c4"/>
<circle cx="550.5" cy="352.2" r="1.7" fill="#9632c4"/>
<circle cx="556.9" cy="358.7" r="1.7" fill="#9632c4"/>
<circle cx="558.4" cy="362.9" r="1.7" fill="#9632c4"/>
<circle cx="526.7" cy="365.6" r="1.7" fill="#9632c4"/>
<circle cx="534.0" cy="369.6" r="1.7" fill="#9632c4"/>
<circle cx="528.0" cy="373.3" r="1.7" fill="#9632c4"/>
<circle cx="558.7" cy="384.3" r="1.7" fill="#9632c4"/>
<circle cx="540.8" cy="381.2" r="1.7" fill="#9632c4"/>
<circle cx="533.5" cy="385.2" r="1.7" fill="#9632c4"/>
<circle cx="538.9" cy="392.9" r="1.7" fill="#9632c4"/>
<circle cx="540.8" cy="395.8" r="1.7" fill="#9632c4"/>
<circle cx="529.4" cy="398.9" r="1.7" fill="#9632c4"/>
<circle cx="554.1" cy="400.8" r="1.7" fill="#9632c4"/>
<circle cx="532.2" cy="411.7" r="1.7" fill="#9632c4"/>
<circle cx="543.2" cy="411.7" r="1.7" fill="#9632c4"/>
<circle cx="553.2" cy="413.0" r="1.7" fill="#9632c4"/>
<circle cx="560.0" cy="374.5" r="1.7" fill="#9632c4"/>
<circle cx="525.8" cy="416.0" r="1.7" fill="#9632c4"/>
<circle cx="528.0" cy="417.8" r="1.7" fill="#9632c4"/>
<circle cx="533.1" cy="416.4" r="1.7" fill="#9632c4"/>
<circle cx="535.8" cy="416.8" r="1.7" fill="#9632c4"/>
<circle cx="538.6" cy="418.2" r="1.7" fill="#9632c4"/>
<circle cx="541.3" cy="417.8" r="1.7" fill="#9632c4"/>
<circle cx="544.1" cy="418.1" r="1.7" fill="#9632c4"/>
<circle cx="546.8" cy="416.8" r="1.7" fill="#9632c4"/>
<circle cx="549.6" cy="416.9" r="1.7" fill="#9632c4"/>
<circle cx="552.3" cy="417.5" r="1.7" fill="#9632c4"/>
<circle cx="555.1" cy="416.8" r="1.7" fill="#9632c4"/>
<circle cx="557.8" cy="416.4" r="1.7" fill="#9632c4"/>
<circle cx="559.2" cy="416.6" r="1.7" fill="#9632c4"/>
<circle cx="561.8" cy="416.0" r="1.7" fill="#9632c4"/>
<circle cx="562.7" cy="416.6" r="1.7" fill="#9632c4"/>
<circle cx="524.5" cy="418.2" r="1.7" fill="#9632c4"/>
<line x1="464.20" y1="288.30" x2="464.20" y2="424.80" stroke="#111" stroke-width="1.3" />
<line x1="464.20" y1="424.20" x2="572.50" y2="424.20" stroke="#111" stroke-width="1.3" />
<line x1="457.60" y1="302.20" x2="464.20" y2="302.20" stroke="#111" stroke-width="1.2" />
<text x="454.00" y="306.60" font-size="13.06" text-anchor="end" transform="translate(454.00 306.60) scale(0.9569 1) translate(-454.00 -306.60)" >2.0</text>
<line x1="457.60" y1="331.15" x2="464.20" y2="331.15" stroke="#111" stroke-width="1.2" />
<text x="454.00" y="335.55" font-size="13.06" text-anchor="end" transform="translate(454.00 335.55) scale(0.9569 1) translate(-454.00 -335.55)" >1.5</text>
<line x1="457.60" y1="360.10" x2="464.20" y2="360.10" stroke="#111" stroke-width="1.2" />
<text x="454.00" y="364.50" font-size="13.06" text-anchor="end" transform="translate(454.00 364.50) scale(0.9569 1) translate(-454.00 -364.50)" >1.0</text>
<line x1="457.60" y1="389.05" x2="464.20" y2="389.05" stroke="#111" stroke-width="1.2" />
<text x="454.00" y="393.45" font-size="13.06" text-anchor="end" transform="translate(454.00 393.45) scale(0.9569 1) translate(-454.00 -393.45)" >0.5</text>
<line x1="457.60" y1="418.00" x2="464.20" y2="418.00" stroke="#111" stroke-width="1.2" />
<text x="454.00" y="422.40" font-size="13.06" text-anchor="end" transform="translate(454.00 422.40) scale(0.9569 1) translate(-454.00 -422.40)" >0.0</text>
<line x1="493.70" y1="424.20" x2="493.70" y2="430.00" stroke="#111" stroke-width="1.2" />
<line x1="542.80" y1="424.20" x2="542.80" y2="430.00" stroke="#111" stroke-width="1.2" />
<text x="493.60" y="442.30" font-size="13.69" text-anchor="middle" transform="translate(493.60 442.30) scale(0.9569 1) translate(-493.60 -442.30)" >PBMC</text>
<text x="546.00" y="442.30" font-size="13.90" text-anchor="middle" transform="translate(546.00 442.30) scale(0.9569 1) translate(-546.00 -442.30)" >Tumor</text>
<text x="0" y="0" font-size="18.8" fill="#111" transform="translate(2.3 491.9) scale(0.92 1)">B</text>
<line x1="75.70" y1="494.30" x2="75.70" y2="673.20" stroke="#111" stroke-width="1.5" />
<line x1="75.00" y1="672.50" x2="588.90" y2="672.50" stroke="#111" stroke-width="1.5" />
<line x1="71.30" y1="534.50" x2="75.70" y2="534.50" stroke="#111" stroke-width="1.2" />
<text x="67.60" y="539.20" font-size="13.69" text-anchor="end" transform="translate(67.60 539.20) scale(0.9569 1) translate(-67.60 -539.20)" >0.050</text>
<line x1="71.30" y1="583.60" x2="75.70" y2="583.60" stroke="#111" stroke-width="1.2" />
<text x="67.60" y="588.30" font-size="13.69" text-anchor="end" transform="translate(67.60 588.30) scale(0.9569 1) translate(-67.60 -588.30)" >0.025</text>
<line x1="71.30" y1="632.80" x2="75.70" y2="632.80" stroke="#111" stroke-width="1.2" />
<text x="67.60" y="637.50" font-size="13.69" text-anchor="end" transform="translate(67.60 637.50) scale(0.9569 1) translate(-67.60 -637.50)" >0.000</text>
<text x="25.90" y="583.60" font-size="14.16" text-anchor="middle" transform="rotate(-90 25.90 583.60) translate(25.90 583.60) scale(0.9569 1) translate(-25.90 -583.60)" >METAFlux Score</text>
<line x1="87.00" y1="583.80" x2="87.00" y2="597.60" stroke="#a6a6a6" stroke-width="1.3" />
<line x1="87.00" y1="623.00" x2="87.00" y2="656.40" stroke="#a6a6a6" stroke-width="1.3" />
<rect x="82.00" y="597.6" width="10.0" height="25.40" fill="#e5e5e5" stroke="#a6a6a6" stroke-width="1.45"/>
<line x1="82.00" y1="612.70" x2="92.00" y2="612.70" stroke="#a6a6a6" stroke-width="2.4" />
<line x1="97.65" y1="583.00" x2="97.65" y2="588.50" stroke="#821e1e" stroke-width="1.3" />
<line x1="97.65" y1="609.20" x2="97.65" y2="627.90" stroke="#821e1e" stroke-width="1.3" />
<rect x="92.75" y="588.5" width="9.8" height="20.70" fill="#d4b2a7" stroke="#821e1e" stroke-width="1.45"/>
<line x1="92.75" y1="595.30" x2="102.55" y2="595.30" stroke="#821e1e" stroke-width="2.4" />
<line x1="92.30" y1="672.50" x2="92.30" y2="676.00" stroke="#111" stroke-width="1.3" />
<text x="97.90" y="681.30" font-size="13.74" text-anchor="end" transform="rotate(-90 97.90 681.30) translate(97.90 681.30) scale(0.9569 1) translate(-97.90 -681.30)" >BRCA</text>
<line x1="115.18" y1="573.00" x2="115.18" y2="593.00" stroke="#a6a6a6" stroke-width="1.3" />
<line x1="115.18" y1="614.10" x2="115.18" y2="635.60" stroke="#a6a6a6" stroke-width="1.3" />
<rect x="110.18" y="593.0" width="10.0" height="21.10" fill="#e5e5e5" stroke="#a6a6a6" stroke-width="1.45"/>
<line x1="110.18" y1="602.00" x2="120.18" y2="602.00" stroke="#a6a6a6" stroke-width="2.4" />
<circle cx="115.18" cy="651.5" r="1.45" fill="#d8d8d8"/>
<line x1="125.83" y1="574.00" x2="125.83" y2="577.80" stroke="#821e1e" stroke-width="1.3" />
<line x1="125.83" y1="604.60" x2="125.83" y2="643.40" stroke="#821e1e" stroke-width="1.3" />
<rect x="120.93" y="577.8" width="9.8" height="26.80" fill="#d4b2a7" stroke="#821e1e" stroke-width="1.45"/>
<line x1="120.93" y1="586.50" x2="130.73" y2="586.50" stroke="#821e1e" stroke-width="2.4" />
<line x1="120.48" y1="672.50" x2="120.48" y2="676.00" stroke="#111" stroke-width="1.3" />
<text x="126.08" y="681.30" font-size="13.74" text-anchor="end" transform="rotate(-90 126.08 681.30) translate(126.08 681.30) scale(0.9569 1) translate(-126.08 -681.30)" >CESC</text>
<line x1="143.36" y1="592.80" x2="143.36" y2="603.60" stroke="#a6a6a6" stroke-width="1.3" />
<line x1="143.36" y1="616.60" x2="143.36" y2="627.70" stroke="#a6a6a6" stroke-width="1.3" />
<rect x="138.36" y="603.6" width="10.0" height="13.00" fill="#e5e5e5" stroke="#a6a6a6" stroke-width="1.45"/>
<line x1="138.36" y1="609.80" x2="148.36" y2="609.80" stroke="#a6a6a6" stroke-width="2.4" />
<circle cx="143.36" cy="642.8" r="1.45" fill="#d8d8d8"/>
<circle cx="143.36" cy="647.3" r="1.45" fill="#d8d8d8"/>
<line x1="154.01" y1="561.00" x2="154.01" y2="567.50" stroke="#821e1e" stroke-width="1.3" />
<line x1="154.01" y1="589.50" x2="154.01" y2="596.60" stroke="#821e1e" stroke-width="1.3" />
<rect x="149.11" y="567.5" width="9.8" height="22.00" fill="#d4b2a7" stroke="#821e1e" stroke-width="1.45"/>
<line x1="149.11" y1="577.80" x2="158.91" y2="577.80" stroke="#821e1e" stroke-width="2.4" />
<circle cx="154.01" cy="624.4" r="1.45" fill="#d9a897"/>
<circle cx="154.01" cy="625.3" r="1.45" fill="#d9a897"/>
<circle cx="154.01" cy="635.6" r="1.45" fill="#d9a897"/>
<circle cx="154.01" cy="638.9" r="1.45" fill="#d9a897"/>
<circle cx="154.01" cy="643.4" r="1.45" fill="#d9a897"/>
<line x1="148.66" y1="672.50" x2="148.66" y2="676.00" stroke="#111" stroke-width="1.3" />
<text x="154.26" y="681.30" font-size="13.74" text-anchor="end" transform="rotate(-90 154.26 681.30) translate(154.26 681.30) scale(0.9569 1) translate(-154.26 -681.30)" >KIRC</text>
<line x1="171.54" y1="616.20" x2="171.54" y2="618.50" stroke="#a6a6a6" stroke-width="1.3" />
<line x1="171.54" y1="625.30" x2="171.54" y2="627.70" stroke="#a6a6a6" stroke-width="1.3" />
<rect x="166.54" y="618.5" width="10.0" height="6.80" fill="#e5e5e5" stroke="#a6a6a6" stroke-width="1.45"/>
<line x1="166.54" y1="620.30" x2="176.54" y2="620.30" stroke="#a6a6a6" stroke-width="2.4" />
<circle cx="171.54" cy="639.0" r="1.45" fill="#d8d8d8"/>
<circle cx="171.54" cy="641.3" r="1.45" fill="#d8d8d8"/>
<circle cx="171.54" cy="645.1" r="1.45" fill="#d8d8d8"/>
<circle cx="171.54" cy="650.5" r="1.45" fill="#d8d8d8"/>
<line x1="182.19" y1="593.00" x2="182.19" y2="598.60" stroke="#821e1e" stroke-width="1.3" />
<line x1="182.19" y1="617.60" x2="182.19" y2="641.20" stroke="#821e1e" stroke-width="1.3" />
<rect x="177.29" y="598.6" width="9.8" height="19.00" fill="#d4b2a7" stroke="#821e1e" stroke-width="1.45"/>
<line x1="177.29" y1="605.60" x2="187.09" y2="605.60" stroke="#821e1e" stroke-width="2.4" />
<circle cx="182.19" cy="646.7" r="1.45" fill="#d9a897"/>
<circle cx="182.19" cy="652.5" r="1.45" fill="#d9a897"/>
<circle cx="182.19" cy="654.4" r="1.45" fill="#d9a897"/>
<circle cx="182.19" cy="656.4" r="1.45" fill="#d9a897"/>
<line x1="176.84" y1="672.50" x2="176.84" y2="676.00" stroke="#111" stroke-width="1.3" />
<text x="182.44" y="681.30" font-size="13.74" text-anchor="end" transform="rotate(-90 182.44 681.30) translate(182.44 681.30) scale(0.9569 1) translate(-182.44 -681.30)" >LIHC</text>
<line x1="199.72" y1="595.30" x2="199.72" y2="615.60" stroke="#a6a6a6" stroke-width="1.3" />
<line x1="199.72" y1="638.30" x2="199.72" y2="645.70" stroke="#a6a6a6" stroke-width="1.3" />
<rect x="194.72" y="615.6" width="10.0" height="22.70" fill="#e5e5e5" stroke="#a6a6a6" stroke-width="1.45"/>
<line x1="194.72" y1="622.40" x2="204.72" y2="622.40" stroke="#a6a6a6" stroke-width="2.4" />
<line x1="210.37" y1="550.10" x2="210.37" y2="587.90" stroke="#821e1e" stroke-width="1.3" />
<line x1="210.37" y1="625.30" x2="210.37" y2="659.30" stroke="#821e1e" stroke-width="1.3" />
<rect x="205.47" y="587.9" width="9.8" height="37.40" fill="#d4b2a7" stroke="#821e1e" stroke-width="1.45"/>
<line x1="205.47" y1="611.40" x2="215.27" y2="611.40" stroke="#821e1e" stroke-width="2.4" />
<line x1="205.02" y1="672.50" x2="205.02" y2="676.00" stroke="#111" stroke-width="1.3" />
<text x="210.62" y="681.30" font-size="13.74" text-anchor="end" transform="rotate(-90 210.62 681.30) translate(210.62 681.30) scale(0.9569 1) translate(-210.62 -681.30)" >LUAD</text>
<line x1="227.90" y1="595.30" x2="227.90" y2="615.60" stroke="#a6a6a6" stroke-width="1.3" />
<line x1="227.90" y1="638.30" x2="227.90" y2="645.70" stroke="#a6a6a6" stroke-width="1.3" />
<rect x="222.90" y="615.6" width="10.0" height="22.70" fill="#e5e5e5" stroke="#a6a6a6" stroke-width="1.45"/>
<line x1="222.90" y1="622.40" x2="232.90" y2="622.40" stroke="#a6a6a6" stroke-width="2.4" />
<line x1="238.55" y1="585.60" x2="238.55" y2="592.40" stroke="#821e1e" stroke-width="1.3" />
<line x1="238.55" y1="621.80" x2="238.55" y2="645.70" stroke="#821e1e" stroke-width="1.3" />
<rect x="233.65" y="592.4" width="9.8" height="29.40" fill="#d4b2a7" stroke="#821e1e" stroke-width="1.45"/>
<line x1="233.65" y1="606.90" x2="243.45" y2="606.90" stroke="#821e1e" stroke-width="2.4" />
<line x1="233.20" y1="672.50" x2="233.20" y2="676.00" stroke="#111" stroke-width="1.3" />
<text x="238.80" y="681.30" font-size="13.74" text-anchor="end" transform="rotate(-90 238.80 681.30) translate(238.80 681.30) scale(0.9569 1) translate(-238.80 -681.30)" >LUSC</text>
<line x1="256.08" y1="582.10" x2="256.08" y2="596.60" stroke="#a6a6a6" stroke-width="1.3" />
<line x1="256.08" y1="611.00" x2="256.08" y2="622.10" stroke="#a6a6a6" stroke-width="1.3" />
<rect x="251.08" y="596.6" width="10.0" height="14.40" fill="#e5e5e5" stroke="#a6a6a6" stroke-width="1.45"/>
<line x1="251.08" y1="600.50" x2="261.08" y2="600.50" stroke="#a6a6a6" stroke-width="2.4" />
<circle cx="256.08" cy="574.7" r="1.45" fill="#d8d8d8"/>
<circle cx="256.08" cy="644.0" r="1.45" fill="#d8d8d8"/>
<circle cx="256.08" cy="647.9" r="1.45" fill="#d8d8d8"/>
<line x1="266.73" y1="536.80" x2="266.73" y2="551.10" stroke="#821e1e" stroke-width="1.3" />
<line x1="266.73" y1="588.70" x2="266.73" y2="611.80" stroke="#821e1e" stroke-width="1.3" />
<rect x="261.83" y="551.1" width="9.8" height="37.60" fill="#d4b2a7" stroke="#821e1e" stroke-width="1.45"/>
<line x1="261.83" y1="561.00" x2="271.63" y2="561.00" stroke="#821e1e" stroke-width="2.4" />
<line x1="261.38" y1="672.50" x2="261.38" y2="676.00" stroke="#111" stroke-width="1.3" />
<text x="266.98" y="681.30" font-size="13.74" text-anchor="end" transform="rotate(-90 266.98 681.30) translate(266.98 681.30) scale(0.9569 1) translate(-266.98 -681.30)" >PAAD</text>
<line x1="284.26" y1="605.80" x2="284.26" y2="617.60" stroke="#a6a6a6" stroke-width="1.3" />
<line x1="284.26" y1="649.20" x2="284.26" y2="653.20" stroke="#a6a6a6" stroke-width="1.3" />
<rect x="279.26" y="617.6" width="10.0" height="31.60" fill="#e5e5e5" stroke="#a6a6a6" stroke-width="1.45"/>
<line x1="279.26" y1="642.10" x2="289.26" y2="642.10" stroke="#a6a6a6" stroke-width="2.4" />
<line x1="294.91" y1="597.90" x2="294.91" y2="608.40" stroke="#821e1e" stroke-width="1.3" />
<line x1="294.91" y1="640.00" x2="294.91" y2="647.40" stroke="#821e1e" stroke-width="1.3" />
<rect x="290.01" y="608.4" width="9.8" height="31.60" fill="#d4b2a7" stroke="#821e1e" stroke-width="1.45"/>
<line x1="290.01" y1="619.70" x2="299.81" y2="619.70" stroke="#821e1e" stroke-width="2.4" />
<line x1="289.56" y1="672.50" x2="289.56" y2="676.00" stroke="#111" stroke-width="1.3" />
<text x="295.16" y="681.30" font-size="13.74" text-anchor="end" transform="rotate(-90 295.16 681.30) translate(295.16 681.30) scale(0.9569 1) translate(-295.16 -681.30)" >THCA</text>
<line x1="312.44" y1="580.80" x2="312.44" y2="597.90" stroke="#a6a6a6" stroke-width="1.3" />
<line x1="312.44" y1="626.00" x2="312.44" y2="650.00" stroke="#a6a6a6" stroke-width="1.3" />
<rect x="307.44" y="597.9" width="10.0" height="28.10" fill="#e5e5e5" stroke="#a6a6a6" stroke-width="1.45"/>
<line x1="307.44" y1="607.60" x2="317.44" y2="607.60" stroke="#a6a6a6" stroke-width="2.4" />
<line x1="323.09" y1="503.20" x2="323.09" y2="517.90" stroke="#821e1e" stroke-width="1.3" />
<line x1="323.09" y1="537.70" x2="323.09" y2="565.60" stroke="#821e1e" stroke-width="1.3" />
<rect x="318.19" y="517.9" width="9.8" height="19.80" fill="#d4b2a7" stroke="#821e1e" stroke-width="1.45"/>
<line x1="318.19" y1="528.50" x2="327.99" y2="528.50" stroke="#821e1e" stroke-width="2.4" />
<circle cx="323.09" cy="577.6" r="1.45" fill="#d9a897"/>
<circle cx="323.09" cy="580.8" r="1.45" fill="#d9a897"/>
<circle cx="323.09" cy="587.9" r="1.45" fill="#d9a897"/>
<line x1="317.74" y1="672.50" x2="317.74" y2="676.00" stroke="#111" stroke-width="1.3" />
<text x="323.34" y="681.30" font-size="13.74" text-anchor="end" transform="rotate(-90 323.34 681.30) translate(323.34 681.30) scale(0.9569 1) translate(-323.34 -681.30)" >THYM</text>
<line x1="340.61" y1="579.80" x2="340.61" y2="587.50" stroke="#a6a6a6" stroke-width="1.3" />
<line x1="340.61" y1="606.30" x2="340.61" y2="610.20" stroke="#a6a6a6" stroke-width="1.3" />
<rect x="335.61" y="587.5" width="10.0" height="18.80" fill="#e5e5e5" stroke="#a6a6a6" stroke-width="1.45"/>
<line x1="335.61" y1="593.30" x2="345.61" y2="593.30" stroke="#a6a6a6" stroke-width="2.4" />
<circle cx="340.61" cy="641.4" r="1.45" fill="#d8d8d8"/>
<circle cx="340.61" cy="655.0" r="1.45" fill="#d8d8d8"/>
<line x1="351.26" y1="548.30" x2="351.26" y2="562.30" stroke="#821e1e" stroke-width="1.3" />
<line x1="351.26" y1="592.00" x2="351.26" y2="605.40" stroke="#821e1e" stroke-width="1.3" />
<rect x="346.36" y="562.3" width="9.8" height="29.70" fill="#d4b2a7" stroke="#821e1e" stroke-width="1.45"/>
<line x1="346.36" y1="573.90" x2="356.16" y2="573.90" stroke="#821e1e" stroke-width="2.4" />
<line x1="345.91" y1="672.50" x2="345.91" y2="676.00" stroke="#111" stroke-width="1.3" />
<text x="351.51" y="681.30" font-size="13.74" text-anchor="end" transform="rotate(-90 351.51 681.30) translate(351.51 681.30) scale(0.9569 1) translate(-351.51 -681.30)" >UCEC</text>
<line x1="368.79" y1="580.00" x2="368.79" y2="592.80" stroke="#a6a6a6" stroke-width="1.3" />
<line x1="368.79" y1="603.00" x2="368.79" y2="613.30" stroke="#a6a6a6" stroke-width="1.3" />
<rect x="363.79" y="592.8" width="10.0" height="10.20" fill="#e5e5e5" stroke="#a6a6a6" stroke-width="1.45"/>
<line x1="363.79" y1="597.20" x2="373.79" y2="597.20" stroke="#a6a6a6" stroke-width="2.4" />
<circle cx="368.79" cy="577.8" r="1.45" fill="#d8d8d8"/>
<circle cx="368.79" cy="620.1" r="1.45" fill="#d8d8d8"/>
<circle cx="368.79" cy="640.9" r="1.45" fill="#d8d8d8"/>
<line x1="379.44" y1="580.30" x2="379.44" y2="586.50" stroke="#821e1e" stroke-width="1.3" />
<line x1="379.44" y1="619.10" x2="379.44" y2="663.70" stroke="#821e1e" stroke-width="1.3" />
<rect x="374.54" y="586.5" width="9.8" height="32.60" fill="#d4b2a7" stroke="#821e1e" stroke-width="1.45"/>
<line x1="374.54" y1="594.90" x2="384.34" y2="594.90" stroke="#821e1e" stroke-width="2.4" />
<line x1="374.09" y1="672.50" x2="374.09" y2="676.00" stroke="#111" stroke-width="1.3" />
<text x="379.69" y="681.30" font-size="13.74" text-anchor="end" transform="rotate(-90 379.69 681.30) translate(379.69 681.30) scale(0.9569 1) translate(-379.69 -681.30)" >GBM</text>
<line x1="396.97" y1="585.20" x2="396.97" y2="598.20" stroke="#a6a6a6" stroke-width="1.3" />
<line x1="396.97" y1="623.80" x2="396.97" y2="647.30" stroke="#a6a6a6" stroke-width="1.3" />
<rect x="391.97" y="598.2" width="10.0" height="25.60" fill="#e5e5e5" stroke="#a6a6a6" stroke-width="1.45"/>
<line x1="391.97" y1="615.10" x2="401.97" y2="615.10" stroke="#a6a6a6" stroke-width="2.4" />
<line x1="407.62" y1="524.20" x2="407.62" y2="577.40" stroke="#821e1e" stroke-width="1.3" />
<line x1="407.62" y1="629.20" x2="407.62" y2="652.50" stroke="#821e1e" stroke-width="1.3" />
<rect x="402.72" y="577.4" width="9.8" height="51.80" fill="#d4b2a7" stroke="#821e1e" stroke-width="1.45"/>
<line x1="402.72" y1="600.10" x2="412.52" y2="600.10" stroke="#821e1e" stroke-width="2.4" />
<line x1="402.27" y1="672.50" x2="402.27" y2="676.00" stroke="#111" stroke-width="1.3" />
<text x="407.87" y="681.30" font-size="13.74" text-anchor="end" transform="rotate(-90 407.87 681.30) translate(407.87 681.30) scale(0.9569 1) translate(-407.87 -681.30)" >PRAD</text>
<line x1="425.15" y1="577.20" x2="425.15" y2="593.70" stroke="#a6a6a6" stroke-width="1.3" />
<line x1="425.15" y1="611.50" x2="425.15" y2="629.00" stroke="#a6a6a6" stroke-width="1.3" />
<rect x="420.15" y="593.7" width="10.0" height="17.80" fill="#e5e5e5" stroke="#a6a6a6" stroke-width="1.45"/>
<line x1="420.15" y1="603.40" x2="430.15" y2="603.40" stroke="#a6a6a6" stroke-width="2.4" />
<line x1="435.80" y1="591.20" x2="435.80" y2="600.90" stroke="#821e1e" stroke-width="1.3" />
<line x1="435.80" y1="634.80" x2="435.80" y2="646.00" stroke="#821e1e" stroke-width="1.3" />
<rect x="430.90" y="600.9" width="9.8" height="33.90" fill="#d4b2a7" stroke="#821e1e" stroke-width="1.45"/>
<line x1="430.90" y1="617.00" x2="440.70" y2="617.00" stroke="#821e1e" stroke-width="2.4" />
<line x1="430.45" y1="672.50" x2="430.45" y2="676.00" stroke="#111" stroke-width="1.3" />
<text x="436.05" y="681.30" font-size="13.74" text-anchor="end" transform="rotate(-90 436.05 681.30) translate(436.05 681.30) scale(0.9569 1) translate(-436.05 -681.30)" >BLCA</text>
<line x1="453.33" y1="577.20" x2="453.33" y2="590.40" stroke="#a6a6a6" stroke-width="1.3" />
<line x1="453.33" y1="602.10" x2="453.33" y2="614.30" stroke="#a6a6a6" stroke-width="1.3" />
<rect x="448.33" y="590.4" width="10.0" height="11.70" fill="#e5e5e5" stroke="#a6a6a6" stroke-width="1.45"/>
<line x1="448.33" y1="594.90" x2="458.33" y2="594.90" stroke="#a6a6a6" stroke-width="2.4" />
<circle cx="453.33" cy="574.5" r="1.45" fill="#d8d8d8"/>
<line x1="463.98" y1="586.20" x2="463.98" y2="608.90" stroke="#821e1e" stroke-width="1.3" />
<line x1="463.98" y1="636.00" x2="463.98" y2="662.20" stroke="#821e1e" stroke-width="1.3" />
<rect x="459.08" y="608.9" width="9.8" height="27.10" fill="#d4b2a7" stroke="#821e1e" stroke-width="1.45"/>
<line x1="459.08" y1="618.50" x2="468.88" y2="618.50" stroke="#821e1e" stroke-width="2.4" />
<line x1="458.63" y1="672.50" x2="458.63" y2="676.00" stroke="#111" stroke-width="1.3" />
<text x="464.23" y="681.30" font-size="13.74" text-anchor="end" transform="rotate(-90 464.23 681.30) translate(464.23 681.30) scale(0.9569 1) translate(-464.23 -681.30)" >COAD</text>
<line x1="481.51" y1="577.20" x2="481.51" y2="590.40" stroke="#a6a6a6" stroke-width="1.3" />
<line x1="481.51" y1="602.10" x2="481.51" y2="614.30" stroke="#a6a6a6" stroke-width="1.3" />
<rect x="476.51" y="590.4" width="10.0" height="11.70" fill="#e5e5e5" stroke="#a6a6a6" stroke-width="1.45"/>
<line x1="476.51" y1="595.30" x2="486.51" y2="595.30" stroke="#a6a6a6" stroke-width="2.4" />
<circle cx="481.51" cy="574.5" r="1.45" fill="#d8d8d8"/>
<line x1="492.16" y1="573.40" x2="492.16" y2="595.30" stroke="#821e1e" stroke-width="1.3" />
<line x1="492.16" y1="645.30" x2="492.16" y2="652.50" stroke="#821e1e" stroke-width="1.3" />
<rect x="487.26" y="595.3" width="9.8" height="50.00" fill="#d4b2a7" stroke="#821e1e" stroke-width="1.45"/>
<line x1="487.26" y1="613.70" x2="497.06" y2="613.70" stroke="#821e1e" stroke-width="2.4" />
<line x1="486.81" y1="672.50" x2="486.81" y2="676.00" stroke="#111" stroke-width="1.3" />
<text x="492.41" y="681.30" font-size="13.74" text-anchor="end" transform="rotate(-90 492.41 681.30) translate(492.41 681.30) scale(0.9569 1) translate(-492.41 -681.30)" >READ</text>
<line x1="509.69" y1="581.70" x2="509.69" y2="590.80" stroke="#a6a6a6" stroke-width="1.3" />
<line x1="509.69" y1="612.70" x2="509.69" y2="628.80" stroke="#a6a6a6" stroke-width="1.3" />
<rect x="504.69" y="590.8" width="10.0" height="21.90" fill="#e5e5e5" stroke="#a6a6a6" stroke-width="1.45"/>
<line x1="504.69" y1="594.30" x2="514.69" y2="594.30" stroke="#a6a6a6" stroke-width="2.4" />
<circle cx="509.69" cy="644.7" r="1.45" fill="#d8d8d8"/>
<circle cx="509.69" cy="661.6" r="1.45" fill="#d8d8d8"/>
<line x1="520.34" y1="569.10" x2="520.34" y2="584.20" stroke="#821e1e" stroke-width="1.3" />
<line x1="520.34" y1="618.20" x2="520.34" y2="644.10" stroke="#821e1e" stroke-width="1.3" />
<rect x="515.44" y="584.2" width="9.8" height="34.00" fill="#d4b2a7" stroke="#821e1e" stroke-width="1.45"/>
<line x1="515.44" y1="604.00" x2="525.24" y2="604.00" stroke="#821e1e" stroke-width="2.4" />
<line x1="514.99" y1="672.50" x2="514.99" y2="676.00" stroke="#111" stroke-width="1.3" />
<text x="520.59" y="681.30" font-size="13.74" text-anchor="end" transform="rotate(-90 520.59 681.30) translate(520.59 681.30) scale(0.9569 1) translate(-520.59 -681.30)" >ESCA</text>
<line x1="537.87" y1="593.00" x2="537.87" y2="604.00" stroke="#a6a6a6" stroke-width="1.3" />
<line x1="537.87" y1="616.60" x2="537.87" y2="627.90" stroke="#a6a6a6" stroke-width="1.3" />
<rect x="532.87" y="604.0" width="10.0" height="12.60" fill="#e5e5e5" stroke="#a6a6a6" stroke-width="1.45"/>
<line x1="532.87" y1="610.20" x2="542.87" y2="610.20" stroke="#a6a6a6" stroke-width="2.4" />
<circle cx="537.87" cy="642.8" r="1.45" fill="#d8d8d8"/>
<circle cx="537.87" cy="647.1" r="1.45" fill="#d8d8d8"/>
<line x1="548.52" y1="595.90" x2="548.52" y2="607.30" stroke="#821e1e" stroke-width="1.3" />
<line x1="548.52" y1="625.30" x2="548.52" y2="647.60" stroke="#821e1e" stroke-width="1.3" />
<rect x="543.62" y="607.3" width="9.8" height="18.00" fill="#d4b2a7" stroke="#821e1e" stroke-width="1.45"/>
<line x1="543.62" y1="616.20" x2="553.42" y2="616.20" stroke="#821e1e" stroke-width="2.4" />
<line x1="543.17" y1="672.50" x2="543.17" y2="676.00" stroke="#111" stroke-width="1.3" />
<text x="548.77" y="681.30" font-size="13.74" text-anchor="end" transform="rotate(-90 548.77 681.30) translate(548.77 681.30) scale(0.9569 1) translate(-548.77 -681.30)" >KICH</text>
<line x1="566.05" y1="593.00" x2="566.05" y2="604.00" stroke="#a6a6a6" stroke-width="1.3" />
<line x1="566.05" y1="616.60" x2="566.05" y2="627.90" stroke="#a6a6a6" stroke-width="1.3" />
<rect x="561.05" y="604.0" width="10.0" height="12.60" fill="#e5e5e5" stroke="#a6a6a6" stroke-width="1.45"/>
<line x1="561.05" y1="610.20" x2="571.05" y2="610.20" stroke="#a6a6a6" stroke-width="2.4" />
<circle cx="566.05" cy="642.8" r="1.45" fill="#d8d8d8"/>
<circle cx="566.05" cy="647.1" r="1.45" fill="#d8d8d8"/>
<line x1="576.70" y1="586.00" x2="576.70" y2="599.20" stroke="#821e1e" stroke-width="1.3" />
<line x1="576.70" y1="621.50" x2="576.70" y2="648.60" stroke="#821e1e" stroke-width="1.3" />
<rect x="571.80" y="599.2" width="9.8" height="22.30" fill="#d4b2a7" stroke="#821e1e" stroke-width="1.45"/>
<line x1="571.80" y1="613.30" x2="581.60" y2="613.30" stroke="#821e1e" stroke-width="2.4" />
<line x1="571.35" y1="672.50" x2="571.35" y2="676.00" stroke="#111" stroke-width="1.3" />
<text x="576.95" y="681.30" font-size="13.74" text-anchor="end" transform="rotate(-90 576.95 681.30) translate(576.95 681.30) scale(0.9569 1) translate(-576.95 -681.30)" >KIRP</text>
<text x="79.70" y="564.70" font-size="11.81" text-anchor="start" transform="translate(79.70 564.70) scale(0.9569 1) translate(-79.70 -564.70)" >0.0067</text>
<text x="106.50" y="554.00" font-size="11.81" text-anchor="start" transform="translate(106.50 554.00) scale(0.9569 1) translate(-106.50 -554.00)" >0.0043</text>
<text x="139.20" y="541.90" font-size="11.81" text-anchor="start" transform="translate(139.20 541.90) scale(0.9569 1) translate(-139.20 -541.90)" >1.5e-05</text>
<text x="163.30" y="578.80" font-size="11.81" text-anchor="start" transform="translate(163.30 578.80) scale(0.9569 1) translate(-163.30 -578.80)" >4.7e-05</text>
<text x="195.80" y="541.90" font-size="11.81" text-anchor="start" transform="translate(195.80 541.90) scale(0.9569 1) translate(-195.80 -541.90)" >0.028</text>
<text x="220.00" y="573.90" font-size="11.81" text-anchor="start" transform="translate(220.00 573.90) scale(0.9569 1) translate(-220.00 -573.90)" >0.00087</text>
<text x="249.00" y="529.40" font-size="11.81" text-anchor="start" transform="translate(249.00 529.40) scale(0.9569 1) translate(-249.00 -529.40)" >2.6e-07</text>
<text x="277.60" y="589.80" font-size="11.81" text-anchor="start" transform="translate(277.60 589.80) scale(0.9569 1) translate(-277.60 -589.80)" >0.0015</text>
<text x="305.10" y="500.10" font-size="11.81" text-anchor="start" transform="translate(305.10 500.10) scale(0.9569 1) translate(-305.10 -500.10)" >&lt;2.2e-16</text>
<text x="335.10" y="539.80" font-size="11.81" text-anchor="start" transform="translate(335.10 539.80) scale(0.9569 1) translate(-335.10 -539.80)" >5.3e-06</text>
<text x="367.30" y="565.30" font-size="11.81" text-anchor="start" transform="translate(367.30 565.30) scale(0.9569 1) translate(-367.30 -565.30)" >0.87</text>
<text x="395.90" y="518.90" font-size="11.81" text-anchor="start" transform="translate(395.90 518.90) scale(0.9569 1) translate(-395.90 -518.90)" >0.11</text>
<text x="419.40" y="553.80" font-size="11.81" text-anchor="start" transform="translate(419.40 553.80) scale(0.9569 1) translate(-419.40 -553.80)" >0.034</text>
<text x="444.30" y="567.70" font-size="11.81" text-anchor="start" transform="translate(444.30 567.70) scale(0.9569 1) translate(-444.30 -567.70)" >1.7e-07</text>
<text x="470.50" y="553.70" font-size="11.81" text-anchor="start" transform="translate(470.50 553.70) scale(0.9569 1) translate(-470.50 -553.70)" >0.0012</text>
<text x="508.90" y="562.80" font-size="11.81" text-anchor="start" transform="translate(508.90 562.80) scale(0.9569 1) translate(-508.90 -562.80)" >0.8</text>
<text x="533.00" y="580.80" font-size="11.81" text-anchor="start" transform="translate(533.00 580.80) scale(0.9569 1) translate(-533.00 -580.80)" >0.057</text>
<text x="566.00" y="580.30" font-size="11.81" text-anchor="start" transform="translate(566.00 580.30) scale(0.9569 1) translate(-566.00 -580.30)" >0.8</text>
<line x1="623.1" y1="559.8" x2="623.1" y2="575.0" stroke="#2a2a2a" stroke-width="1.4"/>
<rect x="616.1" y="562.6" width="14.1" height="9.8" fill="#ebebeb" stroke="#2a2a2a" stroke-width="1.5"/>
<line x1="616.1" y1="567.5" x2="630.2" y2="567.5" stroke="#2a2a2a" stroke-width="1.4"/>
<line x1="623.1" y1="578.1999999999999" x2="623.1" y2="593.4" stroke="#2a2a2a" stroke-width="1.4"/>
<rect x="616.1" y="581.0" width="14.1" height="9.8" fill="#d4b2a7" stroke="#2a2a2a" stroke-width="1.5"/>
<line x1="616.1" y1="585.9" x2="630.2" y2="585.9" stroke="#2a2a2a" stroke-width="1.4"/>
<text x="641.60" y="572.70" font-size="13.58" text-anchor="start" transform="translate(641.60 572.70) scale(0.9569 1) translate(-641.60 -572.70)" >Normal</text>
<text x="641.60" y="590.60" font-size="13.58" text-anchor="start" transform="translate(641.60 590.60) scale(0.9569 1) translate(-641.60 -590.60)" >Tumor</text>
</svg>
</body></html>
